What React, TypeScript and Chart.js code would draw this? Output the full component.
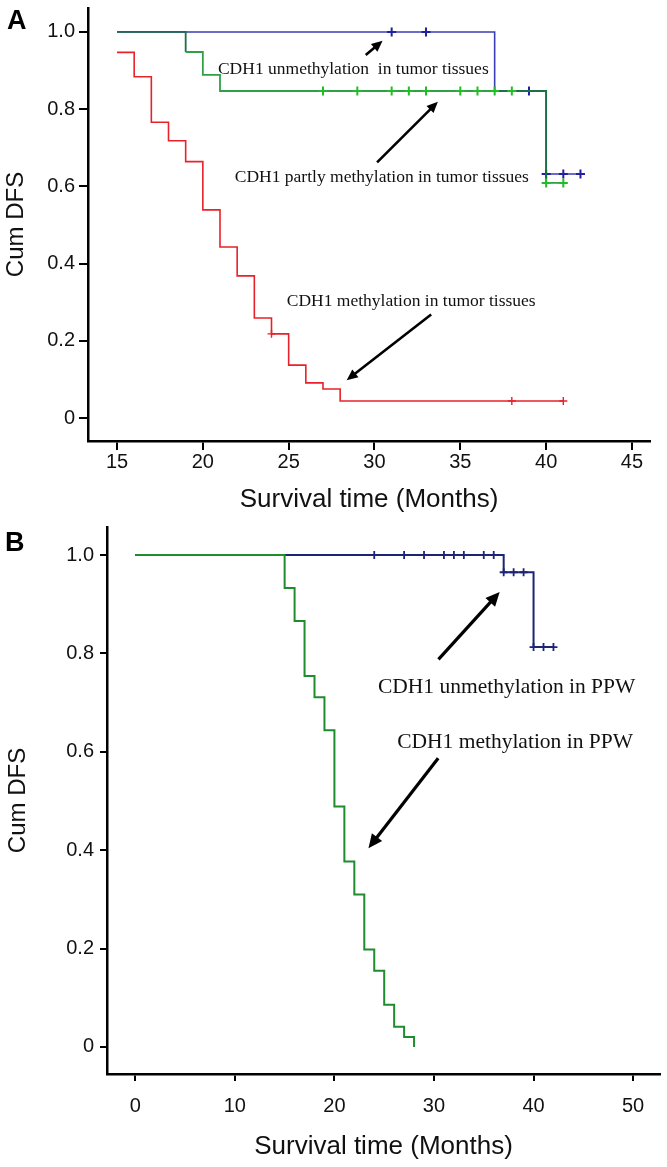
import React, { useEffect, useRef } from 'react';
import { Chart, registerables } from 'chart.js';

Chart.register(...registerables);

// ---------------- Panel A data ----------------
const aXTicks = [15, 20, 25, 30, 35, 40, 45];
const aYTicks = [0, 0.2, 0.4, 0.6, 0.8, 1.0];

const aUnmethTimes = [15, 37, 40, 42];
const aUnmethSurv = [1.0, 0.847, 0.632, 0.632];
const aUnmethCensorTimes = [31, 33, 39, 40, 41, 42];
const aUnmethCensorSurv = [1.0, 1.0, 0.847, 0.632, 0.632, 0.632];

const aPartlyTimes = [15, 19, 20, 21, 37, 40, 41];
const aPartlySurv = [1.0, 0.948, 0.889, 0.847, 0.847, 0.609, 0.609];
const aPartlyCensorTimes = [27, 29, 31, 32, 33, 35, 36, 37, 38, 40, 41];
const aPartlyCensorSurv = [0.847, 0.847, 0.847, 0.847, 0.847, 0.847, 0.847, 0.847, 0.847, 0.609, 0.609];
const aOverlapRanges = [[15, 19], [37, 40]];

const aMethTimes = [15, 16, 17, 18, 19, 20, 21, 22, 23, 24, 25, 26, 27, 28, 41];
const aMethSurv = [0.947, 0.884, 0.766, 0.718, 0.664, 0.539, 0.443, 0.368, 0.259, 0.218, 0.137, 0.091, 0.075, 0.044, 0.044];
const aMethCensorTimes = [24, 38, 41];
const aMethCensorSurv = [0.218, 0.044, 0.044];

const aLabels = [
  { text: 'CDH1 unmethylation  in tumor tissues', x: 20.88, y: 0.902 },
  { text: 'CDH1 partly methylation in tumor tissues', x: 21.86, y: 0.622 },
  { text: 'CDH1 methylation in tumor tissues', x: 24.89, y: 0.301 },
];
const aArrows = [
  { x1: 29.49, y1: 0.94, x2: 30.47, y2: 0.977 },
  { x1: 30.15, y1: 0.662, x2: 33.69, y2: 0.819 },
  { x1: 33.3, y1: 0.268, x2: 28.38, y2: 0.098 },
];

// ---------------- Panel B data ----------------
const bXTicks = [0, 10, 20, 30, 40, 50];
const bYTicks = [0, 0.2, 0.4, 0.6, 0.8, 1.0];

const bUnmethTimes = [0, 37, 40, 42];
const bUnmethSurv = [1.0, 0.965, 0.813, 0.813];
const bUnmethCensorTimes = [24, 27, 29, 31, 32, 33, 35, 36, 37, 38, 39, 40, 41, 42];
const bUnmethCensorSurv = [1, 1, 1, 1, 1, 1, 1, 1, 0.965, 0.965, 0.965, 0.813, 0.813, 0.813];

const bMethTimes = [0, 15, 16, 17, 18, 19, 20, 21, 22, 23, 24, 25, 26, 27, 28];
const bMethSurv = [1.0, 0.933, 0.866, 0.754, 0.711, 0.644, 0.489, 0.377, 0.31, 0.198, 0.155, 0.086, 0.041, 0.02, 0.0];

const bLabels = [
  { text: 'CDH1 unmethylation in PPW', x: 24.37, y: 0.73 },
  { text: 'CDH1 methylation in PPW', x: 26.3, y: 0.62 },
];
const bArrows = [
  { x1: 30.45, y1: 0.788, x2: 36.6, y2: 0.925 },
  { x1: 30.42, y1: 0.587, x2: 23.42, y2: 0.404 },
];

// ---------------- helpers ----------------
const SANS = '"Liberation Sans", Arial, sans-serif';
const SERIF = '"Liberation Serif", "Times New Roman", serif';

const zip = (t: number[], s: number[]) => t.map((x, i) => ({ x, y: s[i] }));

const annotatePlugin = {
  id: 'annot',
  afterDatasetsDraw(chart: any, _args: any, opts: any) {
    const { ctx } = chart;
    const xs = chart.scales.x;
    const ys = chart.scales.y;
    ctx.save();
    ctx.fillStyle = '#111';
    ctx.strokeStyle = '#000';
    ctx.font = `${opts.fontSize}px ${SERIF}`;
    ctx.textBaseline = 'middle';
    ctx.textAlign = 'left';
    (opts.labels || []).forEach((l: any) => {
      ctx.fillText(l.text, xs.getPixelForValue(l.x), ys.getPixelForValue(l.y));
    });
    ctx.fillStyle = '#000';
    (opts.arrows || []).forEach((a: any) => {
      const x1 = xs.getPixelForValue(a.x1);
      const y1 = ys.getPixelForValue(a.y1);
      const x2 = xs.getPixelForValue(a.x2);
      const y2 = ys.getPixelForValue(a.y2);
      const ang = Math.atan2(y2 - y1, x2 - x1);
      const hl = opts.headLen;
      const hw = opts.headWidth;
      const bx = x2 - hl * Math.cos(ang);
      const by = y2 - hl * Math.sin(ang);
      ctx.lineWidth = opts.lineWidth;
      ctx.beginPath();
      ctx.moveTo(x1, y1);
      ctx.lineTo(bx + Math.cos(ang), by + Math.sin(ang));
      ctx.stroke();
      ctx.beginPath();
      ctx.moveTo(x2, y2);
      ctx.lineTo(bx + hw * Math.sin(ang), by - hw * Math.cos(ang));
      ctx.lineTo(bx - hw * Math.sin(ang), by + hw * Math.cos(ang));
      ctx.closePath();
      ctx.fill();
    });
    ctx.restore();
  },
};

function axisOptions(cfg: any) {
  return {
    x: {
      type: 'linear',
      min: cfg.xMin,
      max: cfg.xMax,
      afterBuildTicks: (ax: any) => {
        ax.ticks = cfg.xTicks.map((v: number) => ({ value: v }));
      },
      afterFit: (ax: any) => {
        ax.height = cfg.xHeight;
        ax.paddingLeft = 0;
        ax.paddingRight = 0;
        ax.paddingTop = 0;
        ax.paddingBottom = 0;
      },
      ticks: {
        autoSkip: false,
        maxRotation: 0,
        color: '#111',
        padding: cfg.xTickPad,
        font: { family: SANS, size: 20 },
        callback: (v: any) => String(v),
      },
      grid: { drawOnChartArea: false, drawTicks: true, tickLength: cfg.tickLen, color: '#000', lineWidth: 2 },
      border: { display: true, color: '#000', width: 2.5 },
      title: {
        display: true,
        text: 'Survival time (Months)',
        color: '#111',
        font: { family: SANS, size: 26 },
        padding: { top: 0, bottom: cfg.xTitlePad },
      },
    },
    y: {
      type: 'linear',
      min: cfg.yMin,
      max: cfg.yMax,
      afterBuildTicks: (ax: any) => {
        ax.ticks = cfg.yTicks.map((v: number) => ({ value: v }));
      },
      afterFit: (ax: any) => {
        ax.width = cfg.yWidth;
        ax.paddingLeft = 0;
        ax.paddingRight = 0;
        ax.paddingTop = 0;
        ax.paddingBottom = 0;
      },
      ticks: {
        autoSkip: false,
        color: '#111',
        padding: cfg.yTickPad,
        font: { family: SANS, size: 20 },
        callback: (v: any) => (Number(v) === 0 ? '0' : Number(v).toFixed(1)),
      },
      grid: { drawOnChartArea: false, drawTicks: true, tickLength: cfg.tickLen, color: '#000', lineWidth: 2 },
      border: { display: true, color: '#000', width: 2.5 },
      title: {
        display: true,
        text: 'Cum DFS',
        color: '#111',
        font: { family: SANS, size: 24 },
        padding: { top: cfg.yTitlePad, bottom: 0 },
      },
    },
  };
}

function lineDs(data: any[], color: any, width: number, order: number, segment?: any) {
  const ds: any = {
    data,
    borderColor: color,
    borderWidth: width,
    pointRadius: 0,
    stepped: 'before',
    fill: false,
    tension: 0,
    order,
  };
  if (segment) ds.segment = segment;
  return ds;
}

function censorDs(data: any[], color: string, radius: number, width: number, order: number) {
  return {
    data,
    showLine: false,
    pointStyle: 'cross',
    pointRadius: radius,
    pointBorderColor: color,
    pointBorderWidth: width,
    pointBackgroundColor: color,
    borderColor: color,
    order,
  };
}

const inOverlap = (x: number) => aOverlapRanges.some(([a, b]) => x >= a && x < b);

export default function App() {
  const refA = useRef<HTMLCanvasElement>(null);
  const refB = useRef<HTMLCanvasElement>(null);

  useEffect(() => {
    const blueA = '#3c3cb4';
    const greenA = '#2fa046';
    const darkGreenA = '#1f6e4a';
    const redA = '#e8222a';

    const chartA = new Chart(refA.current as HTMLCanvasElement, {
      type: 'line',
      data: {
        datasets: [
          lineDs(zip(aMethTimes, aMethSurv), redA, 1.6, 1),
          censorDs(zip(aMethCensorTimes, aMethCensorSurv), redA, 4, 1.4, 0),
          lineDs(zip(aPartlyTimes, aPartlySurv), greenA, 1.8, 3, {
            borderColor: (c: any) => (inOverlap(c.p0.parsed.x) ? darkGreenA : greenA),
          }),
          censorDs(zip(aPartlyCensorTimes, aPartlyCensorSurv), '#22bb2a', 4.5, 2, 2),
          lineDs(zip(aUnmethTimes, aUnmethSurv), blueA, 1.6, 5),
          censorDs(zip(aUnmethCensorTimes, aUnmethCensorSurv), '#2020a0', 4.5, 2, 4),
        ],
      },
      options: {
        responsive: false,
        animation: false,
        events: [],
        layout: { padding: { top: 8, right: 17, left: 0, bottom: 0 } },
        scales: axisOptions({
          xMin: 13.31, xMax: 46.05, xTicks: aXTicks, xHeight: 79, xTickPad: 0, xTitlePad: 5,
          yMin: -0.0596, yMax: 1.062, yTicks: aYTicks, yWidth: 88, yTickPad: 4, yTitlePad: 2,
          tickLen: 9,
        }) as any,
        plugins: {
          legend: { display: false },
          tooltip: { enabled: false },
          annot: { labels: aLabels, arrows: aArrows, fontSize: 17.5, lineWidth: 2.6, headLen: 11, headWidth: 5 },
        } as any,
      },
      plugins: [annotatePlugin],
    });

    const blueB = '#1c2478';
    const greenB = '#1f8c2e';

    const chartB = new Chart(refB.current as HTMLCanvasElement, {
      type: 'line',
      data: {
        datasets: [
          lineDs(zip(bMethTimes, bMethSurv), greenB, 2, 1),
          lineDs(zip(bUnmethTimes, bUnmethSurv), blueB, 2, 3),
          censorDs(zip(bUnmethCensorTimes, bUnmethCensorSurv), blueB, 4, 1.8, 2),
        ],
      },
      options: {
        responsive: false,
        animation: false,
        events: [],
        layout: { padding: { top: 7, right: 7, left: 0, bottom: 0 } },
        scales: axisOptions({
          xMin: -2.84, xMax: 52.7, xTicks: bXTicks, xHeight: 93, xTickPad: 13, xTitlePad: 5,
          yMin: -0.055, yMax: 1.057, yTicks: bYTicks, yWidth: 107, yTickPad: 6, yTitlePad: 4,
          tickLen: 7,
        }) as any,
        plugins: {
          legend: { display: false },
          tooltip: { enabled: false },
          annot: { labels: bLabels, arrows: bArrows, fontSize: 21.5, lineWidth: 3.2, headLen: 14, headWidth: 6.5 },
        } as any,
      },
      plugins: [annotatePlugin],
    });

    return () => {
      chartA.destroy();
      chartB.destroy();
    };
  }, []);

  const letter: React.CSSProperties = {
    position: 'absolute',
    fontFamily: SANS,
    fontWeight: 'bold',
    fontSize: 27,
    lineHeight: 1,
    color: '#000',
  };

  return (
    <div style={{ position: 'absolute', left: 0, top: 0, width: 667, height: 1167, background: '#fff', overflow: 'hidden' }}>
      <canvas ref={refA} width={667} height={520} style={{ position: 'absolute', left: 0, top: 0, width: 667, height: 520 }} />
      <canvas ref={refB} width={667} height={647} style={{ position: 'absolute', left: 0, top: 520, width: 667, height: 647 }} />
      <div style={{ ...letter, left: 7, top: 6.5 }}>A</div>
      <div style={{ ...letter, left: 5, top: 528.5 }}>B</div>
    </div>
  );
}
